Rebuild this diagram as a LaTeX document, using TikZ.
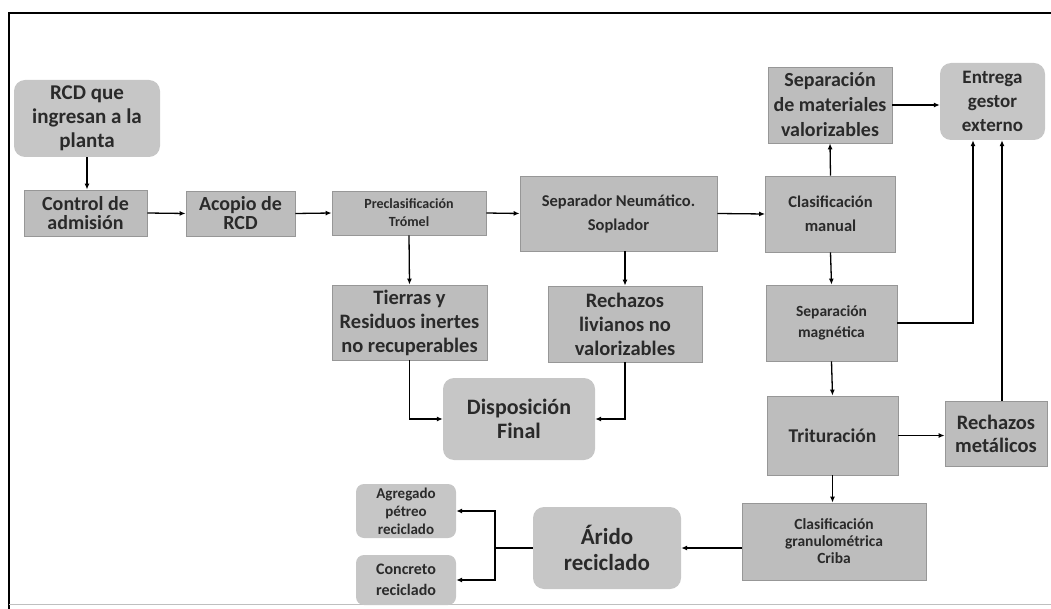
\documentclass[tikz,border=0pt]{standalone}
\usepackage{fontspec}
\setmainfont{Carlito}
\usetikzlibrary{arrows.meta}
\definecolor{boxfill}{HTML}{BDBDBD}
\definecolor{roundfill}{HTML}{C6C6C6}
\definecolor{boxline}{HTML}{979797}
\definecolor{inktext}{HTML}{2A2A2A}
\newcommand{\fz}[2]{\bfseries\fontsize{#1}{#2}\selectfont}
\tikzset{
  sqbox/.style={draw=boxline, line width=0.8pt, fill=boxfill, text=inktext,
    align=center, inner sep=0pt},
  rdbox/.style={fill=roundfill, rounded corners=11pt, text=inktext,
    align=center, inner sep=0pt},
  flow/.style={line width=1.3pt, -{Latex[length=6pt,width=5pt]}},
  plain/.style={line width=1.3pt}
}
\begin{document}
\begin{tikzpicture}[x=1pt,y=-1pt]
\useasboundingbox (0,0) rectangle (1051,609);
% frame of the scanned page
\draw[line width=1.6pt] (9,609) -- (9,13) -- (1051,13);
\draw[black!25] (9,604) -- (1051,604);

% main line
\node[rdbox, minimum width=146pt, minimum height=77pt, font=\fz{21}{24}] (rcd) at (87,118.5) {RCD que\\ingresan a la\\planta};
\node[sqbox, minimum width=123pt, minimum height=46pt, font=\fz{20}{19}] (control) at (85.5,213) {Control de\\admisión};
\node[sqbox, minimum width=109pt, minimum height=45pt, font=\fz{20}{19}] (acopio) at (240.5,213.5) {Acopio de\\RCD};
\node[sqbox, minimum width=154pt, minimum height=44pt, font=\fz{14}{18}] (precl) at (409,213) {Preclasificación\\Trómel};
\node[sqbox, minimum width=197pt, minimum height=75pt, font=\fz{16.5}{24}] (separador) at (618.5,213.5) {Separador Neumático.\\Soplador};
\node[sqbox, minimum width=130pt, minimum height=76pt, font=\fz{16.5}{24}] (clasman) at (830.5,214) {Clasificación\\manual};

% upper right
\node[sqbox, minimum width=124pt, minimum height=76pt, font=\fz{20}{25}] (sepval) at (830,105) {Separación\\de materiales\\valorizables};
\node[rdbox, minimum width=105pt, minimum height=77pt, font=\fz{19}{24}] (entrega) at (992.5,101.5) {Entrega\\gestor\\externo};

% rejects
\node[sqbox, minimum width=155pt, minimum height=75pt, font=\fz{20.5}{24}] (tierras) at (409.5,322.5) {Tierras y\\Residuos inertes\\no recuperables};
\node[sqbox, minimum width=154pt, minimum height=76pt, font=\fz{20.5}{24}] (livianos) at (625,324) {Rechazos\\livianos no\\valorizables};
\node[rdbox, minimum width=152pt, minimum height=82pt, font=\fz{22}{24}] (disp) at (519,419) {Disposición\\Final};

% right column
\node[sqbox, minimum width=131pt, minimum height=76pt, font=\fz{15.5}{21}] (sepmag) at (831.5,323) {Separación\\magnética};
\node[sqbox, minimum width=131pt, minimum height=79pt, font=\fz{19.5}{22}] (trit) at (832.5,435.5) {Trituración};
\node[sqbox, minimum width=102pt, minimum height=65pt, font=\fz{20.5}{23}] (rechmet) at (996,433.5) {Rechazos\\metálicos};
\node[sqbox, minimum width=184pt, minimum height=77pt, font=\fz{15.5}{17}] (criba) at (834,541.5) {Clasificación\\granulométrica\\Criba};

% products
\node[rdbox, minimum width=148pt, minimum height=82pt, font=\fz{23}{26}] (arido) at (607,548) {Árido\\reciclado};
\node[rdbox, rounded corners=8pt, minimum width=100pt, minimum height=54pt, font=\fz{15}{18}] (agregado) at (406,511) {Agregado\\pétreo\\reciclado};
\node[rdbox, rounded corners=8pt, minimum width=100pt, minimum height=50pt, font=\fz{16}{21}] (concreto) at (406,580) {Concreto\\reciclado};
\coordinate (split) at (495,548);

% connectors
\draw[flow] (rcd.south) -- (rcd.south |- control.north);
\draw[flow] (control.east) -- (acopio.west);
\draw[flow] (acopio.east) -- (precl.west);
\draw[flow] (precl.east) -- (separador.west);
\draw[flow] (separador.east) -- (clasman.west);
\draw[flow] (clasman.north) -- (sepval.south);
\draw[flow] (sepval.east) -- (sepval.east -| entrega.west);
\draw[flow] (precl.south) -- (tierras.north);
\draw[flow] (livianos.north |- separador.south) -- (livianos.north);
\draw[flow] (tierras.south) |- (disp.west);
\draw[flow] (livianos.south) |- (disp.east);
\draw[flow] (clasman.south) -- (sepmag.north);
\draw[flow] (sepmag.east) -| ([xshift=-19.5pt]entrega.south);
\draw[flow] (sepmag.south) -- (trit.north);
\draw[flow] (trit.east) -- (trit.east -| rechmet.west);
\draw[flow] ([xshift=6pt]rechmet.north) -- ([xshift=6pt]rechmet.north |- entrega.south);
\draw[flow] (trit.south) -- (trit.south |- criba.north);
\draw[flow] (criba.west |- arido.east) -- (arido.east);
\draw[plain] (arido.west) -- (split);
\draw[flow] (split) |- (agregado.east);
\draw[flow] (split) |- (concreto.east);
\end{tikzpicture}
\end{document}
